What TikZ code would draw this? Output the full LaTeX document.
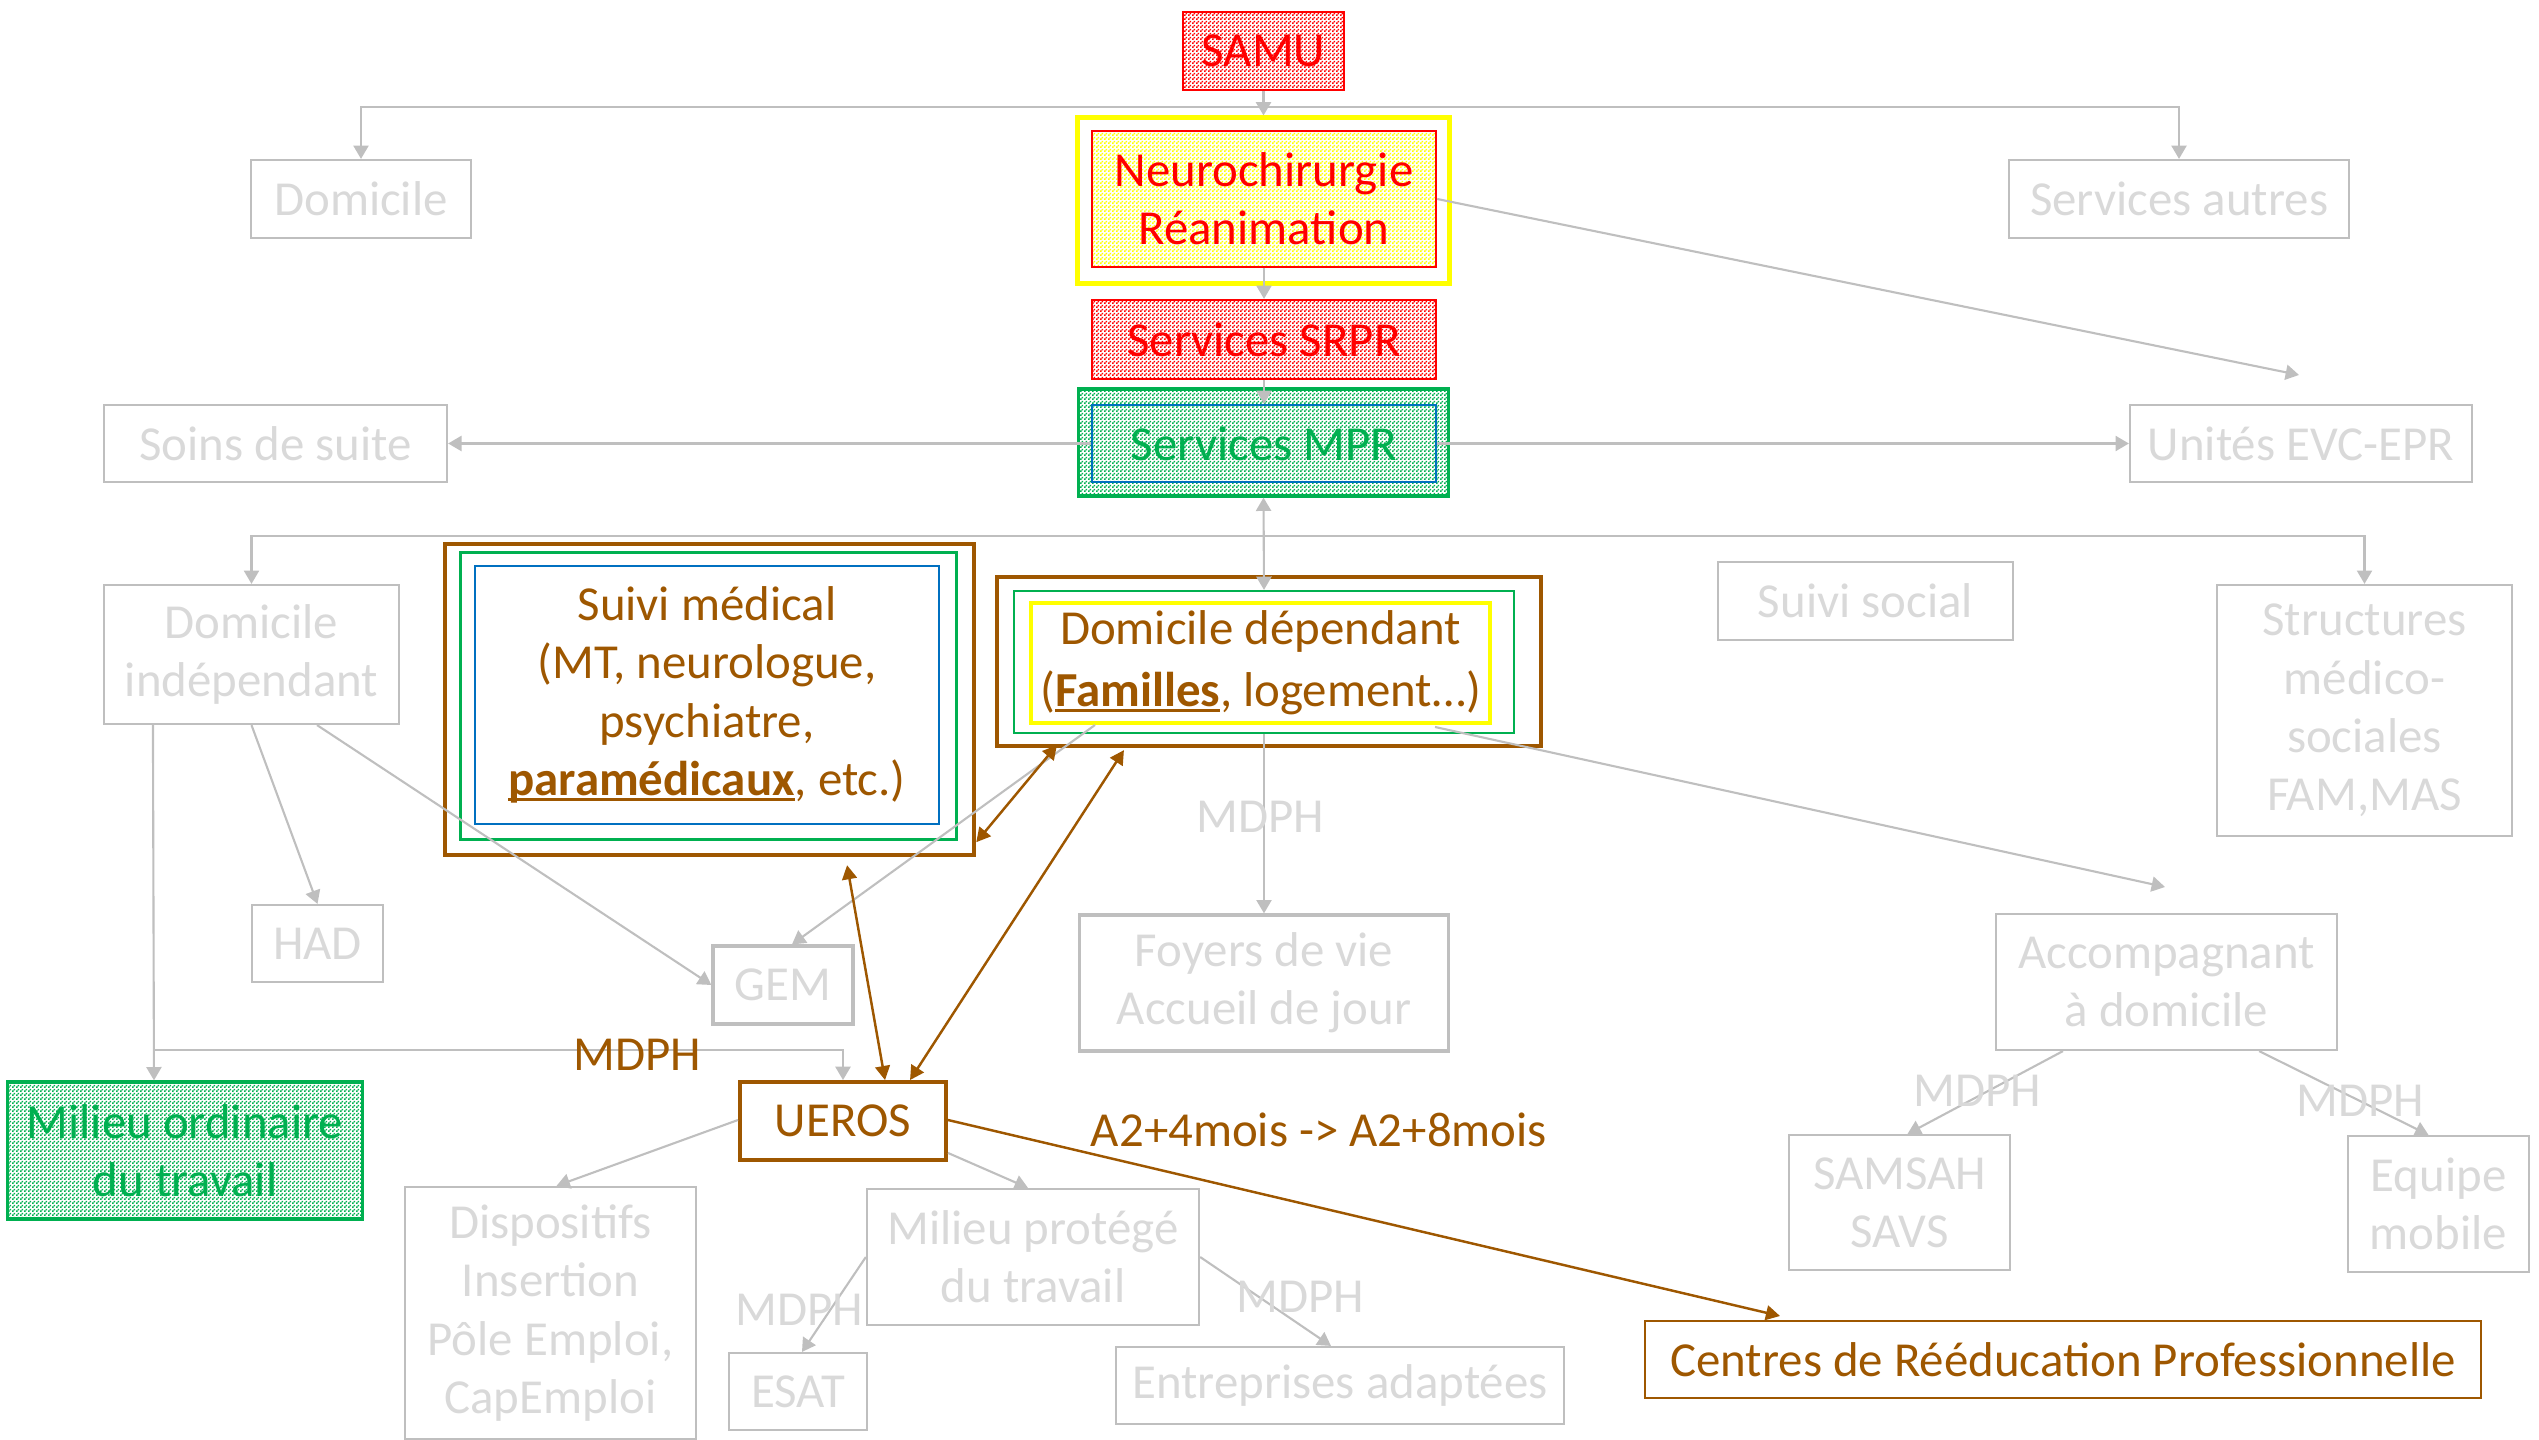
\documentclass[tikz,border=0pt]{standalone}
\usepackage{fontspec}
\setmainfont{Carlito}
\usetikzlibrary{arrows.meta,patterns.meta,calc}

\definecolor{glin}{HTML}{BFBFBF}
\definecolor{gtxt}{HTML}{D9D9D9}
\definecolor{brn}{HTML}{9E5700}
\definecolor{grn}{HTML}{00B050}
\definecolor{blu}{HTML}{0070C0}
\definecolor{ylw}{HTML}{FFFF00}
\definecolor{rd}{HTML}{FF0000}

\tikzdeclarepattern{
  name=fdots, type=uncolored,
  bottom left={(0pt,0pt)}, top right={(1.138pt,1.138pt)},
  tile size={(1.138pt,1.138pt)},
  code={
    \pgfpathrectangle{\pgfpoint{0pt}{0pt}}{\pgfpoint{0.569pt}{0.569pt}}
    \pgfpathrectangle{\pgfpoint{0.569pt}{0.569pt}}{\pgfpoint{0.569pt}{0.569pt}}
    \pgfusepath{fill}
  }
}

\newcommand\myul[1]{\setbox0\hbox{#1}\rlap{\rule[-1.6pt]{\wd0}{0.9pt}}\box0}

\tikzset{
  every node/.style={font=\fontsize{13.9pt}{16.6pt}\selectfont, inner sep=0pt, align=center},
  sz/.style 2 args={minimum width=#1cm, minimum height=#2cm},
  gbox/.style={draw=glin, line width=0.6pt, text=gtxt},
  tipg/.tip={Triangle[length=3.8pt,width=4.3pt]},
  garrow/.style={draw=glin, line width=0.6pt, -tipg},
  gdarrow/.style={draw=glin, line width=0.6pt, tipg-tipg},
  barrow/.style={draw=brn, line width=0.7pt, {Triangle[length=4pt,width=4.2pt]}-{Triangle[length=4pt,width=4.2pt]}},
  bsarrow/.style={draw=brn, line width=0.7pt, -{Triangle[length=4pt,width=4.2pt]}},
  glbl/.style={text=gtxt},
  blbl/.style={text=brn},
}

\begin{document}
\begin{tikzpicture}[x=0.01cm,y=-0.01cm]
\useasboundingbox (0,0) rectangle (2539,1440);

% ---------- main column ----------
\node[pattern={fdots}, pattern color=rd, draw=rd, line width=0.6pt, text=rd, sz={1.61}{0.78}] (samu) at (1263.5,51) {SAMU};
\node[draw=ylw, line width=1.4pt, sz={3.71}{1.65}] (neuroY) at (1263.5,200.5) {};
\node[pattern={fdots}, pattern color=ylw, draw=rd, line width=0.6pt, text=rd, sz={3.44}{1.36}] (neuro) at (1264,199) {Neurochirurgie\\Réanimation};
\node[pattern={fdots}, pattern color=rd, draw=rd, line width=0.6pt, text=rd, sz={3.44}{0.79}] (srpr) at (1264,339.5) {Services SRPR};
\node[pattern={fdots}, pattern color=grn, draw=grn, line width=0.9pt, sz={3.69}{1.07}] (mpr) at (1263.5,442.5) {};
\node[draw=blu, line width=0.6pt, text=grn, sz={3.44}{0.77}] (mprin) at (1264,443.5) {Services MPR};

% ---------- grey boxes ----------
\node[gbox, sz={2.20}{0.78}] (domicile) at (361,199) {Domicile};
\node[gbox, sz={3.40}{0.78}] (autres) at (2179,199) {Services autres};
\node[gbox, sz={3.43}{0.77}] (soins) at (275.5,443.5) {Soins de suite};
\node[gbox, sz={3.42}{0.77}] (evc) at (2301,443.5) {Unités EVC-EPR};
\node[gbox, sz={2.95}{1.39}] (domind) at (251.5,654.5) {Domicile\\indépendant};
\node[gbox, sz={2.95}{0.78}] (social) at (1865.5,601) {Suivi social};
\node[gbox, sz={2.95}{2.51}] (struct) at (2364.5,710.5) {Structures\\médico-\\sociales\\FAM,MAS};
\node[gbox, sz={1.31}{0.77}] (had) at (317.5,943.5) {HAD};
\node[gbox, line width=0.9pt, sz={1.40}{0.78}] (gem) at (783,985) {GEM};
\node[gbox, line width=0.9pt, sz={3.68}{1.36}] (foyers) at (1264,983) {Foyers de vie\\Accueil de jour};
\node[gbox, sz={3.41}{1.36}] (accomp) at (2166.5,982) {Accompagnant\\à domicile};
\node[gbox, sz={2.91}{2.52}] (dispo) at (550.5,1313) {Dispositifs\\Insertion\\Pôle Emploi,\\CapEmploi};
\node[gbox, sz={3.32}{1.36}] (milprot) at (1033,1257) {Milieu protégé\\du travail};
\node[gbox, sz={1.38}{0.77}] (esat) at (798,1391.5) {ESAT};
\node[gbox, sz={4.48}{0.77}] (entrep) at (1340,1385.5) {Entreprises adaptées};
\node[gbox, sz={2.21}{1.35}] (samsah) at (1899.5,1202.5) {SAMSAH\\SAVS};
\node[gbox, sz={1.81}{1.36}] (equipe) at (2438.5,1204) {Equipe\\mobile};

% ---------- coloured boxes ----------
\node[draw=brn, line width=1.2pt, sz={5.29}{3.11}] (suivi) at (709.5,699.5) {};
\node[draw=grn, line width=0.85pt, sz={4.95}{2.86}] (suiviG) at (708.5,696) {};
\node[draw=blu, line width=0.6pt, text=brn, sz={4.64}{2.58}] (suiviB) at (707,695)
  {Suivi médical\\(MT, neurologue,\\psychiatre,\\\myul{\textbf{paramédicaux}}, etc.)};

\node[draw=brn, line width=1.2pt, sz={5.44}{1.69}] (domdep) at (1269,661.5) {};
\node[draw=grn, line width=0.6pt, sz={5.00}{1.42}] (domdepG) at (1264,662) {};
\node[draw=ylw, line width=1.2pt, text=brn, sz={4.59}{1.20}] (domdepY) at (1260.5,663)
  {Domicile dépendant\\[1pt](\myul{\textbf{Familles}}, logement…)};

\node[pattern={fdots}, pattern color=grn, draw=grn, line width=0.9pt, text=grn, sz={3.54}{1.37}] (milord) at (185,1150.5) {Milieu ordinaire\\du travail};
\node[draw=brn, line width=1.1pt, text=brn, sz={2.06}{0.78}] (ueros) at (843,1121) {UEROS};
\node[draw=brn, line width=0.6pt, text=brn, sz={8.36}{0.77}] (centres) at (2063,1359.5) {Centres de Rééducation Professionnelle};

% ---------- helper coordinates ----------
\coordinate (j1) at (1263.5,107);
\coordinate (j2) at (1264,536);
\coordinate (j3) at (153,1050);
\coordinate (evcpt) at (2299,375);
\coordinate (acpt) at (2165,887);
\coordinate (gemst) at (1095,725);
\coordinate (accst) at (1435,727);
\coordinate (cpt) at (1780,1316);

% ---------- grey connectors ----------
\draw[garrow] (samu.south) -- (neuroY.north);
\draw[garrow] (j1) -| (domicile.north);
\draw[garrow] (j1) -| (autres.north);
\draw[garrow] (neuro.south) -- (srpr.north);
\draw[garrow] (srpr.south) -- (mprin.north);
\draw[garrow] (mprin.west) -- (soins.east);
\draw[garrow] (mprin.east) -- (evc.west);
\draw[garrow] (neuro.east) -- (evcpt);
\draw[gdarrow] (mpr.south) -- (domdepG.north);
\draw[garrow] (j2) -| (domind.north);
\draw[garrow] (j2) -| (struct.north);
\draw[garrow] (domdepG.south) -- (foyers.north);
\draw[garrow] (gemst) -- ([xshift=0.09cm]gem.north);
\draw[garrow] (accst) -- (acpt);
\draw[garrow] (domind.south) -- (had.north);
\draw[garrow] ([xshift=0.655cm]domind.south) -- (gem.west);
\draw[garrow] ([xshift=-0.985cm]domind.south) -- ([xshift=-0.31cm]milord.north);
\draw[garrow] (j3) -| (ueros.north);
\draw[garrow] ([yshift=0.01cm]ueros.west) -- ([xshift=0.06cm]dispo.north);
\draw[garrow] ([yshift=0.09cm]ueros.south east) -- ([xshift=-0.05cm]milprot.north);
\draw[garrow] (milprot.west) -- ([xshift=0.04cm]esat.north);
\draw[garrow] (milprot.east) -- ([xshift=-0.09cm]entrep.north);
\draw[garrow] ([xshift=-1.035cm]accomp.south) -- ([xshift=0.08cm]samsah.north);
\draw[garrow] ([xshift=0.925cm]accomp.south) -- ([xshift=-0.1cm]equipe.north);

% ---------- brown connectors ----------
\draw[barrow] ([xshift=1.375cm,yshift=-0.08cm]suivi.south) -- ([xshift=0.42cm]ueros.north);
\draw[barrow] ([xshift=-1.45cm,yshift=-0.02cm]domdep.south) -- ([xshift=0.67cm]ueros.north);
\draw[barrow] ([xshift=-2.12cm,yshift=0.03cm]domdep.south) -- ([yshift=0.15cm]suivi.south east);
\draw[bsarrow] ([yshift=0.01cm]ueros.east) -- (cpt);

% ---------- labels ----------
\node[glbl] (l1) at (1260,817) {MDPH};
\node[blbl] (l2) at (637,1055) {MDPH};
\node[blbl] (l3) at (1319,1130) {A2+4mois -> A2+8mois};
\node[glbl] (l4) at (799,1310) {MDPH};
\node[glbl] (l5) at (1300,1297) {MDPH};
\node[glbl] (l6) at (1977,1091) {MDPH};
\node[glbl] (l7) at (2360,1101) {MDPH};
\end{tikzpicture}
\end{document}
